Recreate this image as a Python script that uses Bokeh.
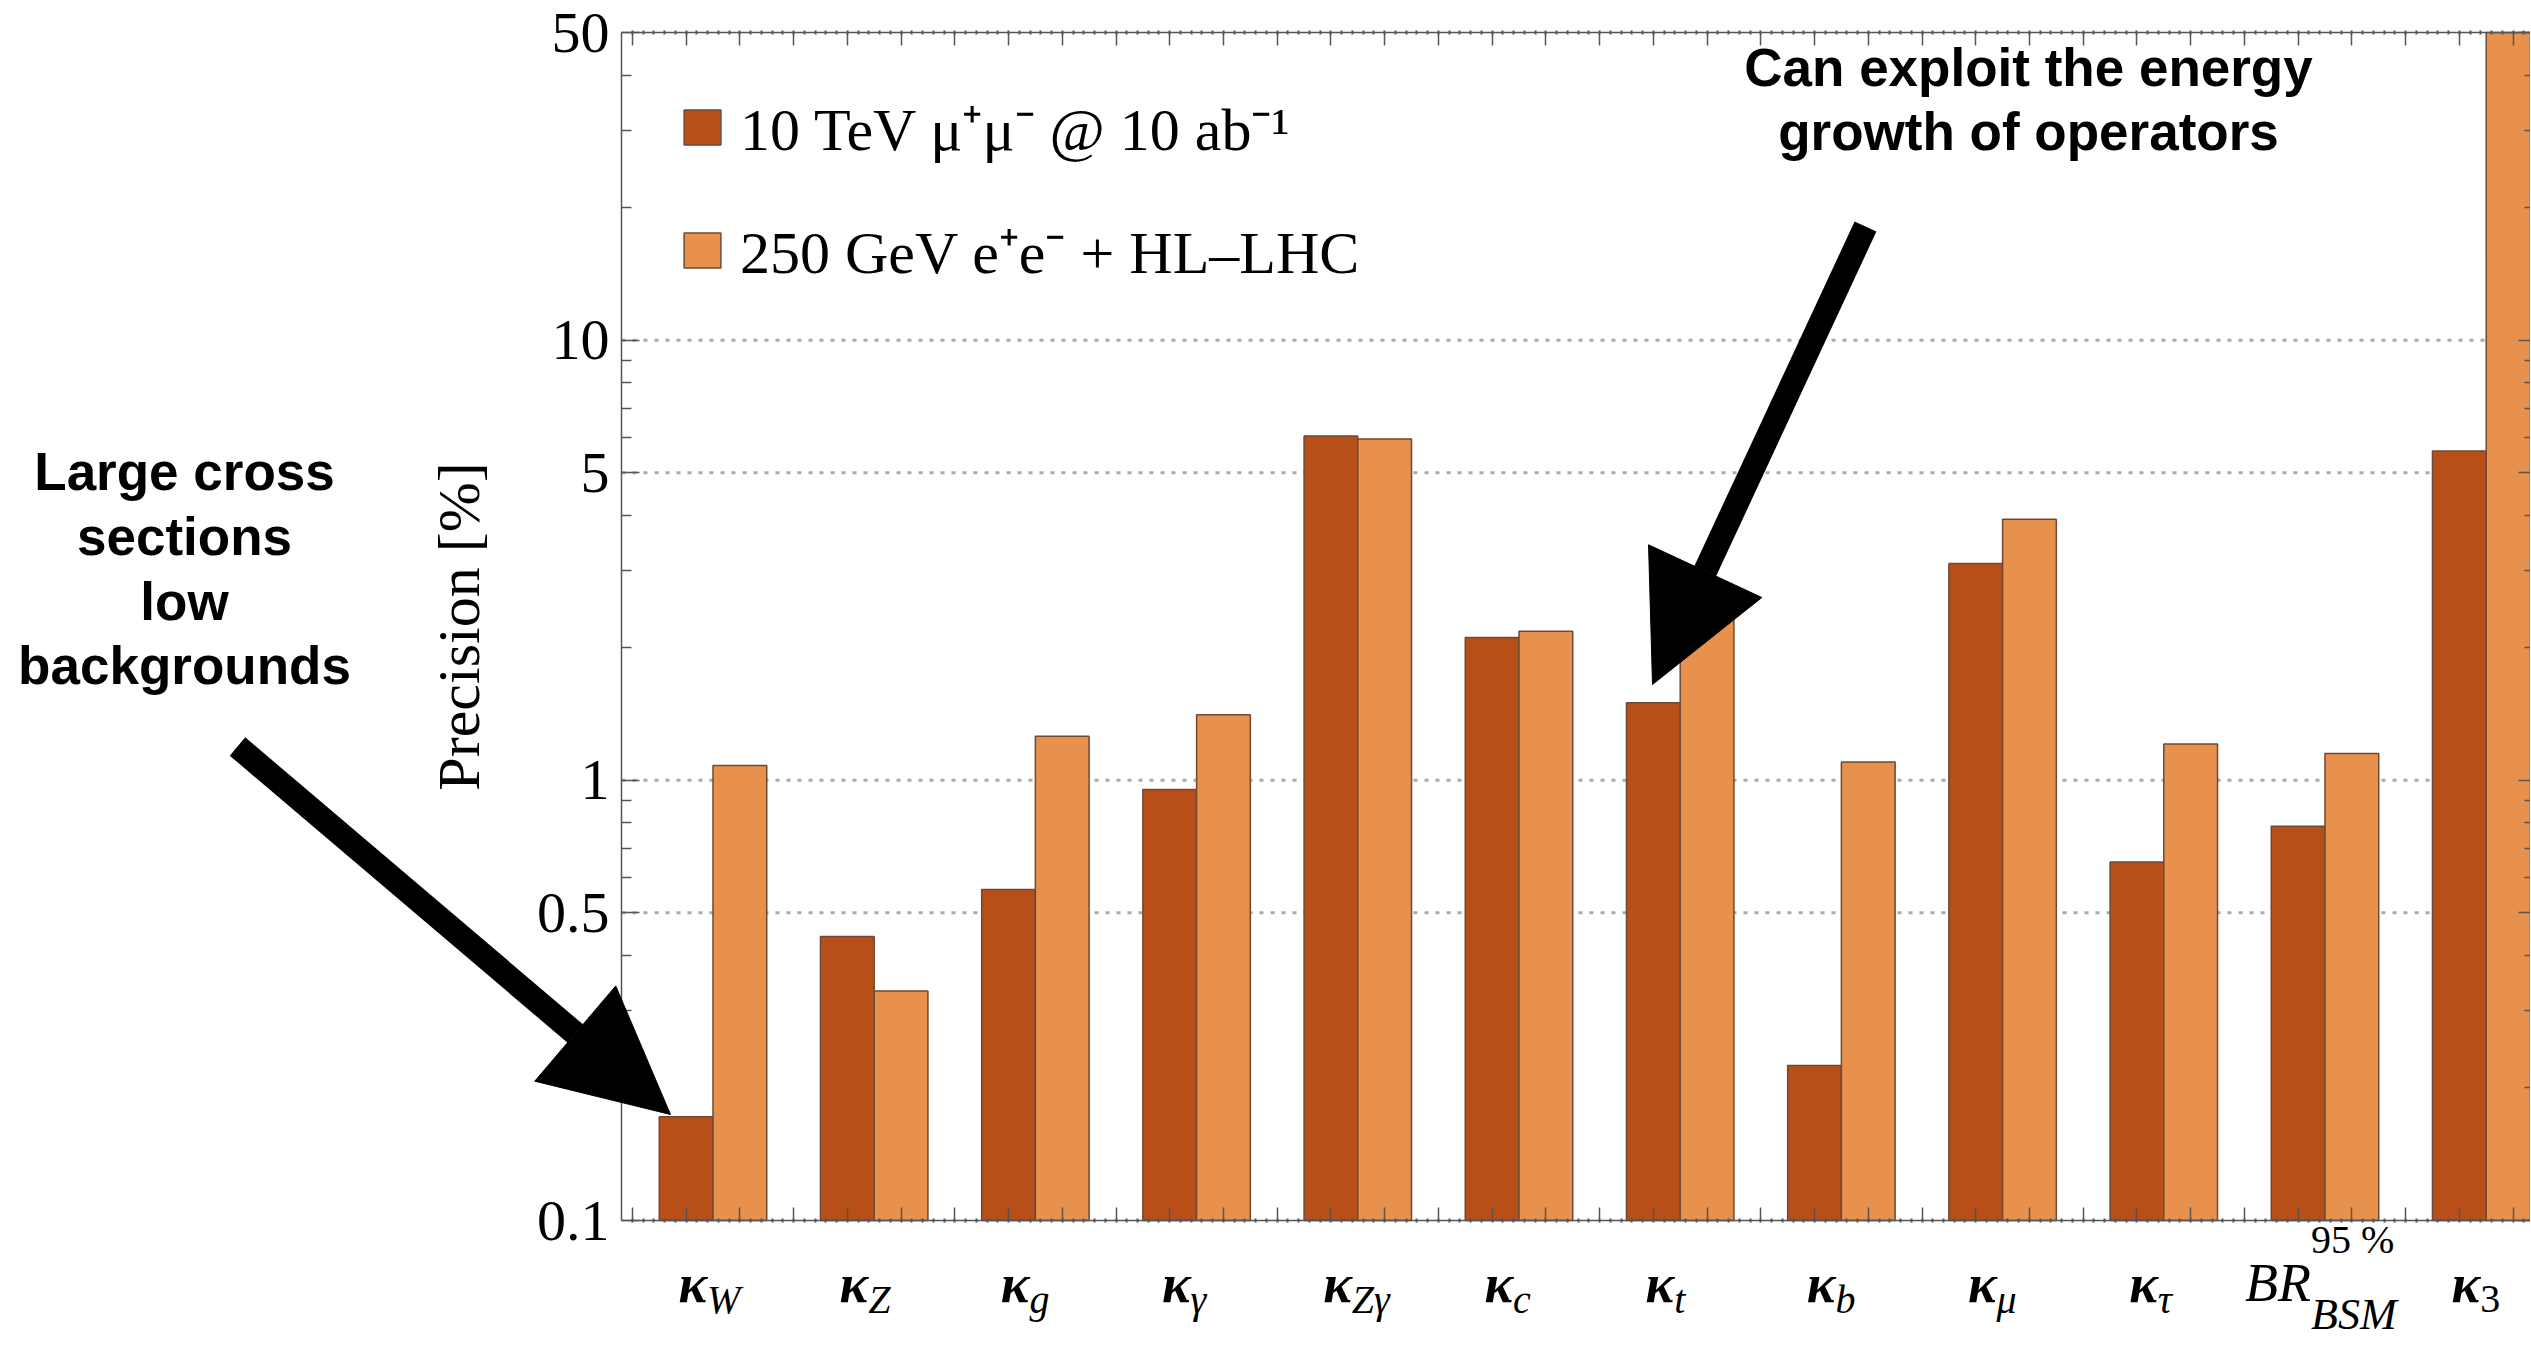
import numpy as np
from bokeh.plotting import figure
from bokeh.models import (FixedTicker, LinearAxis, LogAxis, Range1d, Label, Arrow,
                          NormalHead, Legend, LegendItem, CustomJSTickFormatter)
from bokeh.embed import file_html
from bokeh.resources import INLINE

# ---------------- data ----------------
categories = ["κ_W", "κ_Z", "κ_g", "κ_γ", "κ_Zγ", "κ_c", "κ_t", "κ_b", "κ_μ", "κ_τ", "BR_BSM", "κ_3"]
label_main = ["κ", "κ", "κ", "κ", "κ", "κ", "κ", "κ", "κ", "κ", "BR", "κ"]
label_sub = ["W", "Z", "g", "γ", "Zγ", "c", "t", "b", "μ", "τ", "BSM", "3"]
label_sup = ["", "", "", "", "", "", "", "", "", "", "95 %", ""]
muon_10tev = [0.172, 0.442, 0.565, 0.953, 6.06, 2.11, 1.50, 0.225, 3.11, 0.652, 0.786, 5.60]
ee_250_hllhc = [1.08, 0.332, 1.26, 1.41, 5.96, 2.18, 2.70, 1.10, 3.92, 1.21, 1.15, 50.0]
series_names = ["10 TeV μ⁺μ⁻ @ 10 ab⁻¹", "250 GeV e⁺e⁻ + HL–LHC"]
y_ticks = [0.1, 0.5, 1, 5, 10, 50]
y_tick_labels = ["0.1", "0.5", "1", "5", "10", "50"]
y_minor_ticks = [0.2, 0.3, 0.4, 0.6, 0.7, 0.8, 0.9, 2, 3, 4, 6, 7, 8, 9, 20, 30, 40]
grid_ticks = [0.5, 1, 5, 10]
y_label = "Precision [%]"
note_left = ["Large cross", "sections", "low", "backgrounds"]
note_right = ["Can exploit the energy", "growth of operators"]

# ---------------- layout (canvas pixels) ----------------
W, H = 2530, 1345
AX_L, AX_R, AX_T, AX_B = 621, 2532, 32, 1220
PX_PER_X = 161.2          # pixels per category
X0_PX = 712.5             # pixel of first category centre
Y_LO, Y_HI = 0.1, 50.0
PX_PER_DEC = (AX_B - AX_T) / np.log10(Y_HI / Y_LO)


def dx(px):
    return (px - X0_PX) / PX_PER_X


def dy(py):
    return Y_LO * 10 ** ((AX_B - py) / PX_PER_DEC)


def base_y(py, size):
    # text baseline at canvas pixel py for a font of the given px size
    return dy(py - 0.31 * size)


DARK = "#B84F19"
LIGHT = "#E8914D"
EDGE = "#6E4A36"
AXIS = "#555555"
SERIF = "Liberation Serif"
SANS = "Liberation Sans"

n = len(categories)
idx = np.arange(n)

p = figure(x_range=Range1d(dx(0), dx(W)), y_range=Range1d(dy(H), dy(0)),
           y_axis_type="log", frame_width=W, frame_height=H, min_border=0,
           x_axis_location=None, y_axis_location=None,
           output_backend="svg", toolbar_location=None)
p.background_fill_color = "white"
p.border_fill_color = "white"
p.outline_line_color = None
p.xgrid.visible = False
p.ygrid.visible = False

blank = CustomJSTickFormatter(code="return ''")

# dotted horizontal grid lines inside the plot box
grid_r = p.segment(x0=dx(AX_L), x1=dx(AX_R), y0=grid_ticks, y1=grid_ticks,
                   line_color="#ababab", line_width=3, line_dash="4 7")
grid_r.level = "underlay"

r1 = p.vbar(x=idx - 1 / 6, top=muon_10tev, bottom=Y_LO, width=1 / 3,
            fill_color=DARK, line_color=EDGE, line_width=1.5)
r2 = p.vbar(x=idx + 1 / 6, top=ee_250_hllhc, bottom=Y_LO, width=1 / 3,
            fill_color=LIGHT, line_color=EDGE, line_width=1.5)

# x ticks (bar centres and gap centres) and fine minor ticks
thirds = [t for t in (-1 / 6 + np.arange(-1, 3 * n + 2) / 3) if dx(AX_L) < t < dx(AX_R)]
fifteenths = [t for t in (-1 / 6 + np.arange(-5, 15 * n + 10) / 15) if dx(AX_L) < t < dx(AX_R)]


def style_common(ax):
    ax.axis_line_color = AXIS
    ax.axis_line_width = 1.5
    ax.major_tick_line_color = AXIS
    ax.major_tick_line_width = 1.5
    ax.minor_tick_line_color = AXIS
    ax.minor_tick_line_width = 1.5
    ax.major_tick_out = 0
    ax.minor_tick_out = 0


def style_x(ax):
    style_common(ax)
    ax.ticker = FixedTicker(ticks=thirds, minor_ticks=fifteenths)
    ax.formatter = blank
    ax.bounds = (dx(AX_L), dx(AX_R))
    ax.major_tick_in = 13
    ax.minor_tick_in = 2
    ax.minor_tick_out = 2
    ax.minor_tick_line_width = 2


bottom_axis = LinearAxis(fixed_location=Y_LO)
style_x(bottom_axis)
p.add_layout(bottom_axis, "below")
top_axis = LinearAxis(fixed_location=Y_HI)
style_x(top_axis)
p.add_layout(top_axis, "above")

yax = LogAxis(fixed_location=dx(AX_L))
style_common(yax)
yax.bounds = (Y_LO, Y_HI)
yax.ticker = FixedTicker(ticks=y_ticks, minor_ticks=y_minor_ticks)
yax.major_label_overrides = {t: s for t, s in zip(y_ticks, y_tick_labels)}
yax.major_label_text_font = SERIF
yax.major_label_text_font_size = "58px"
yax.major_label_text_color = "black"
yax.major_label_standoff = 12
yax.major_tick_in = 18
yax.minor_tick_in = 10
yax.axis_label = y_label
yax.axis_label_text_font = SERIF
yax.axis_label_text_font_style = "normal"
yax.axis_label_text_font_size = "60px"
yax.axis_label_text_color = "black"
yax.axis_label_standoff = 42
p.add_layout(yax, "left")

right_axis = LogAxis(fixed_location=dx(AX_R))
style_common(right_axis)
right_axis.bounds = (Y_LO, Y_HI)
right_axis.ticker = FixedTicker(ticks=y_ticks, minor_ticks=y_minor_ticks)
right_axis.formatter = blank
right_axis.major_tick_in = 14
right_axis.minor_tick_in = 8
p.add_layout(right_axis, "right")

# legend
legend = Legend(items=[LegendItem(label=series_names[0], renderers=[r1]),
                       LegendItem(label=series_names[1], renderers=[r2])],
                location=(679, H - 291), padding=0, margin=0, spacing=41,
                glyph_width=46, glyph_height=44, label_standoff=15,
                label_text_font=SERIF, label_text_font_size="60px",
                label_text_color="black",
                border_line_color=None, background_fill_alpha=0)
p.add_layout(legend)

# category labels
for i in range(n):
    is_br = label_main[i] == "BR"
    off = -14 if is_br else -6
    main_px = 54
    p.add_layout(Label(x=i, y=base_y(1299 if is_br else 1300, main_px), x_offset=off,
                       text=label_main[i], text_align="right", text_baseline="alphabetic",
                       text_font=SERIF,
                       text_font_style="italic" if is_br else "bold italic",
                       text_font_size=f"{main_px}px", text_color="black"))
    sub_style = "normal" if label_sub[i] == "3" else "italic"
    sub_px = 44 if is_br else 40
    p.add_layout(Label(x=i, y=base_y(1328 if is_br else 1311, sub_px), x_offset=off,
                       text=label_sub[i], text_align="left", text_baseline="alphabetic",
                       text_font=SERIF, text_font_style=sub_style,
                       text_font_size=f"{sub_px}px", text_color="black"))
    if label_sup[i]:
        p.add_layout(Label(x=i, y=base_y(1251, 40), x_offset=off, text=label_sup[i],
                           text_align="left", text_baseline="alphabetic",
                           text_font=SERIF, text_font_size="40px", text_color="black"))

# notes
for line, base in zip(note_left, [487, 552, 617, 681]):
    p.add_layout(Label(x=dx(184), y=base_y(base, 53), text=line, text_align="center",
                       text_baseline="alphabetic", text_font=SANS,
                       text_font_style="bold", text_font_size="53px", text_color="black"))
for line, base in zip(note_right, [83, 147]):
    p.add_layout(Label(x=dx(2028), y=base_y(base, 53), text=line, text_align="center",
                       text_baseline="alphabetic", text_font=SANS,
                       text_font_style="bold", text_font_size="53px", text_color="black"))

# arrows
for (x0, y0, x1, y1) in [(237, 746, 670, 1114), (1865, 226, 1652, 684)]:
    p.add_layout(Arrow(end=NormalHead(size=125, fill_color="black", line_color="black"),
                       x_start=dx(x0), y_start=dy(y0), x_end=dx(x1), y_end=dy(y1),
                       line_width=24, line_color="black"))

open("out.html", "w").write(file_html(p, INLINE))
